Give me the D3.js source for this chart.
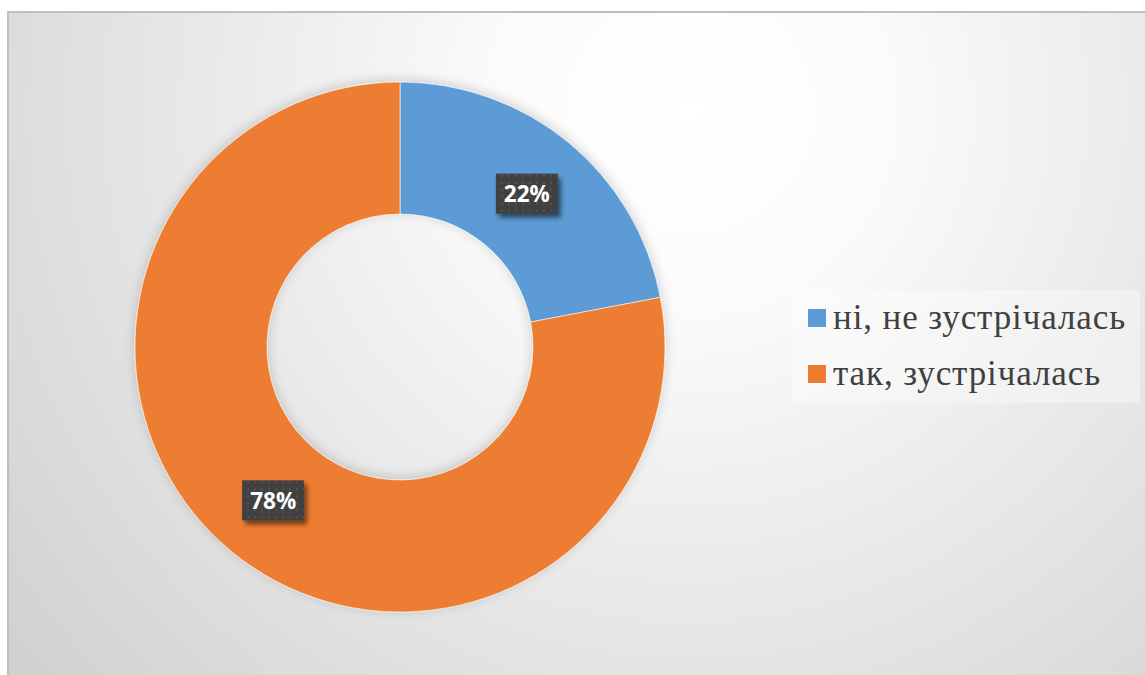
<!DOCTYPE html>
<html>
<head>
<meta charset="utf-8">
<script src="https://cdn.jsdelivr.net/npm/d3@7"></script>
<style>
  html, body { margin: 0; padding: 0; background: #ffffff; }
  svg { display: block; }
</style>
</head>
<body>
<svg id="chart" width="1145" height="675"></svg>
<script>
// Survey answers and their shares (percent)
const categories = ["ні, не зустрічалась", "так, зустрічалась"];
const values = [22, 78];
const colors = ["#5B9BD5", "#ED7D31"];

const W = 1145, H = 675;
const svg = d3.select("#chart");
const defs = svg.append("defs");

// Soft radial background of the chart area
const bg = defs.append("radialGradient")
  .attr("id", "bgGrad")
  .attr("gradientUnits", "userSpaceOnUse")
  .attr("cx", 690).attr("cy", 110).attr("r", 880);
bg.append("stop").attr("offset", "0%").attr("stop-color", "#ffffff");
bg.append("stop").attr("offset", "22%").attr("stop-color", "#fbfbfb");
bg.append("stop").attr("offset", "100%").attr("stop-color", "#d0d0d0");

// Dotted fill for the value labels
const pat = defs.append("pattern")
  .attr("id", "dots")
  .attr("patternUnits", "userSpaceOnUse")
  .attr("width", 7).attr("height", 7);
pat.append("rect").attr("width", 7).attr("height", 7).attr("fill", "#3f3f3f");
pat.append("rect").attr("x", 2).attr("y", 2).attr("width", 2).attr("height", 2).attr("fill", "#555555");

// Drop shadow used by label boxes
const sh = defs.append("filter").attr("id", "shadow")
  .attr("x", "-30%").attr("y", "-30%").attr("width", "170%").attr("height", "180%");
sh.append("feGaussianBlur").attr("in", "SourceAlpha").attr("stdDeviation", 2.5);
sh.append("feOffset").attr("dx", 3).attr("dy", 4).attr("result", "ob");
sh.append("feComponentTransfer").append("feFuncA").attr("type", "linear").attr("slope", 0.55);
const m = sh.append("feMerge");
m.append("feMergeNode");
m.append("feMergeNode").attr("in", "SourceGraphic");

// Faint shadow under the ring
const ringSh = defs.append("filter").attr("id", "ringShadow")
  .attr("x", "-20%").attr("y", "-20%").attr("width", "140%").attr("height", "140%");
ringSh.append("feGaussianBlur").attr("in", "SourceAlpha").attr("stdDeviation", 6);
ringSh.append("feOffset").attr("dx", 0).attr("dy", -2).attr("result", "ob");
ringSh.append("feComponentTransfer").append("feFuncA").attr("type", "linear").attr("slope", 0.18);
const m2 = ringSh.append("feMerge");
m2.append("feMergeNode");
m2.append("feMergeNode").attr("in", "SourceGraphic");

// Chart frame
svg.append("rect")
  .attr("x", 8).attr("y", 12)
  .attr("width", W).attr("height", H)
  .attr("fill", "url(#bgGrad)")
  .attr("stroke", "#bfbfbf").attr("stroke-width", 2);

// Donut
const cx = 400, cy = 347, outerR = 265, innerR = 133;
const pie = d3.pie().sort(null).value(d => d)(values);
const arc = d3.arc().innerRadius(innerR).outerRadius(outerR);

const ring = svg.append("g")
  .attr("transform", `translate(${cx},${cy})`)
  .attr("filter", "url(#ringShadow)");
ring.selectAll("path")
  .data(pie)
  .join("path")
  .attr("d", arc)
  .attr("fill", (d, i) => colors[i])
  .attr("stroke", "#ffffff")
  .attr("stroke-opacity", 0.6)
  .attr("stroke-width", 1);

// Value labels at the middle of each segment
const labelW = 62, labelH = 40;
const labels = svg.append("g").attr("transform", `translate(${cx},${cy})`);
const lg = labels.selectAll("g")
  .data(pie)
  .join("g")
  .attr("transform", d => `translate(${arc.centroid(d)})`);
lg.append("rect")
  .attr("x", -labelW / 2).attr("y", -labelH / 2)
  .attr("width", labelW).attr("height", labelH)
  .attr("fill", "url(#dots)")
  .attr("filter", "url(#shadow)");
lg.append("text")
  .attr("text-anchor", "middle")
  .attr("dy", "0.37em")
  .attr("fill", "#ffffff")
  .attr("font-family", "'Open Sans', 'DejaVu Sans', sans-serif")
  .attr("font-weight", 700)
  .attr("font-size", 22.5)
  .text(d => d.data + "%");

// Legend
const legend = svg.append("g");
legend.append("rect")
  .attr("x", 792).attr("y", 290)
  .attr("width", 348).attr("height", 113)
  .attr("fill", "#ffffff").attr("fill-opacity", 0.35);
const items = legend.selectAll("g.item")
  .data(categories)
  .join("g")
  .attr("class", "item")
  .attr("transform", (d, i) => `translate(808, ${309 + i * 56})`);
items.append("rect")
  .attr("width", 18).attr("height", 18)
  .attr("fill", (d, i) => colors[i]);
items.append("text")
  .attr("x", 25).attr("y", 20)
  .attr("fill", "#404040")
  .attr("font-family", "'Liberation Serif', 'Times New Roman', serif")
  .attr("font-size", 35)
  .attr("letter-spacing", 0.9)
  .text(d => d);
</script>
</body>
</html>
